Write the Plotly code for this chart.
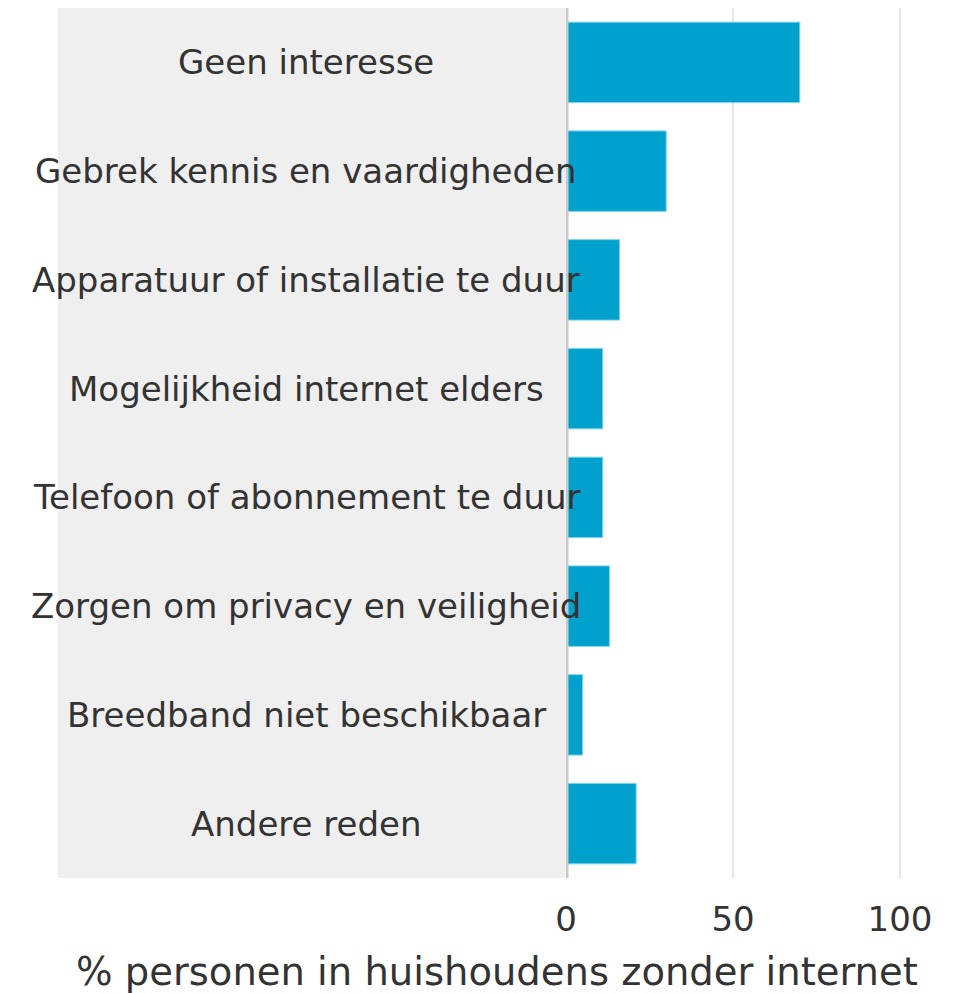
import plotly.graph_objects as go

redenen = [
    "Geen interesse",
    "Gebrek kennis en vaardigheden",
    "Apparatuur of installatie te duur",
    "Mogelijkheid internet elders",
    "Telefoon of abonnement te duur",
    "Zorgen om privacy en veiligheid",
    "Breedband niet beschikbaar",
    "Andere reden",
]
procent = [70, 30, 16, 11, 11, 13, 5, 21]
x_ticks = [0, 50, 100]
x_titel = "% personen in huishoudens zonder internet"

blauw = "#00a1cd"
tekst = "#333333"
font = "DejaVu Sans"

# page has an 8px body margin, so figure is 945x985
W, H = 945, 985
left, zero_px = 50, 558
x_max = 100.6                      # a bit past 100 so the 100 gridline shows
right = round(zero_px + 3.34 * x_max)
bottom = 870
plot_w = right - left
dom_start = (zero_px - left) / plot_w

fig = go.Figure()
fig.add_trace(go.Bar(
    y=redenen, x=procent, orientation="h",
    marker=dict(color=blauw, line=dict(color="#7fd3ea", width=1)),
    hoverinfo="x+y",
))

# grey panel behind the labels
fig.add_shape(type="rect", xref="paper", yref="paper",
              x0=0, x1=dom_start, y0=0, y1=1,
              fillcolor="#efefef", line_width=0, layer="below")
# zero line
fig.add_shape(type="line", xref="x", yref="paper",
              x0=0, x1=0, y0=0, y1=1,
              line=dict(color="#c8c8c8", width=5), layer="above")

for r in redenen:
    fig.add_annotation(x=(298 - left) / plot_w, xref="paper", y=r, yref="y",
                       text=r, showarrow=False, xanchor="center",
                       font=dict(family=font, size=34, color=tekst))

# axis title centred under the whole chart, not the axis domain
fig.add_annotation(x=(489 - left) / plot_w, xref="paper",
                   y=-(963 - bottom) / bottom, yref="paper",
                   text=x_titel, showarrow=False,
                   xanchor="center", yanchor="middle",
                   font=dict(family=font, size=38.5, color=tekst))

fig.update_layout(
    width=W, height=H,
    margin=dict(l=left, r=W - right, t=0, b=H - bottom),
    plot_bgcolor="white", paper_bgcolor="white",
    bargap=0.26,
    showlegend=False,
    font=dict(family=font, color=tekst),
    xaxis=dict(
        domain=[dom_start, 1], range=[0, x_max],
        tickvals=x_ticks, showgrid=True, gridcolor="#e6e6e6", gridwidth=2,
        zeroline=False, showline=False,
        ticks="outside", ticklen=11, tickcolor="rgba(0,0,0,0)",
        tickfont=dict(size=34, color=tekst),
    ),
    yaxis=dict(
        autorange="reversed", showticklabels=False,
        showgrid=False, zeroline=False, showline=False,
    ),
)

fig.write_html("out.html")
